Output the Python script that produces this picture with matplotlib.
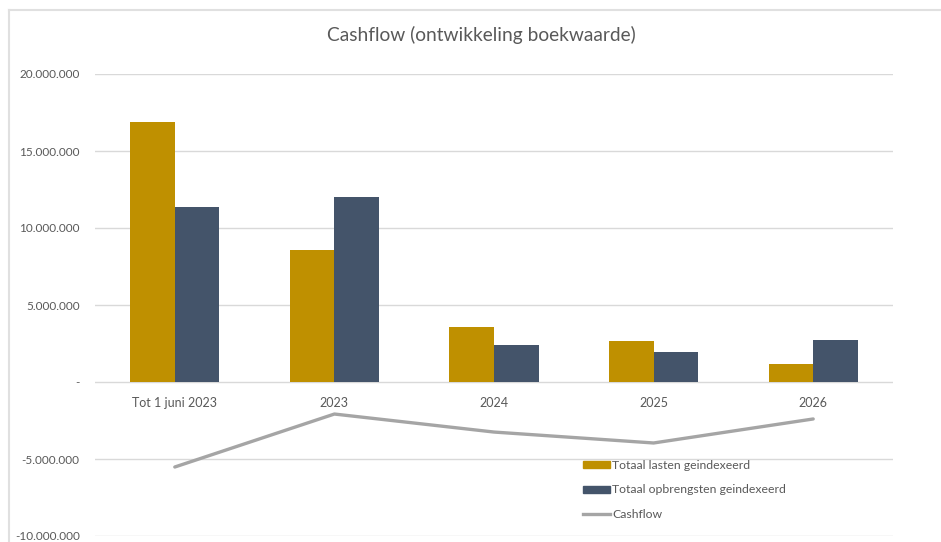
import matplotlib
matplotlib.use("Agg")
import matplotlib.pyplot as plt
from matplotlib.patches import Patch
from matplotlib.lines import Line2D
from matplotlib.ticker import FuncFormatter
import numpy as np

categories = ["Tot 1 juni 2023", "2023", "2024", "2025", "2026"]
lasten = [16880000, 8570000, 3570000, 2660000, 1170000]
opbrengsten = [11360000, 12010000, 2400000, 1950000, 2730000]
cashflow = [-5520000, -2080000, -3250000, -3960000, -2400000]

GOLD = "#bf9000"
BLUE = "#44546a"
GREY_LINE = "#a5a5a5"
TEXT = "#595959"
GRID = "#d9d9d9"

plt.rcParams["font.family"] = ["Lato", "DejaVu Sans"]

fig = plt.figure(figsize=(9.41, 5.42), dpi=100)
ax = fig.add_axes([95 / 941, 1 - 536 / 542, 798 / 941, 462 / 542])

# chart frame (top and left edge visible, like the Excel chart area)
fig.add_artist(Line2D([9 / 941, 1], [1 - 10 / 542] * 2,
                      transform=fig.transFigure, color="#e0e0e0", lw=1.5))
fig.add_artist(Line2D([9 / 941] * 2, [0, 1 - 10 / 542],
                      transform=fig.transFigure, color="#e0e0e0", lw=1.5))

x = np.arange(len(categories))
w = 0.28
ax.bar(x - w / 2, lasten, w, color=GOLD, zorder=2)
ax.bar(x + w / 2, opbrengsten, w, color=BLUE, zorder=2)
ax.plot(x, cashflow, color=GREY_LINE, linewidth=2.4, zorder=3,
        solid_capstyle="round")

ax.set_xlim(-0.5, len(categories) - 0.5)
ax.set_ylim(-10000000, 20000000)
ax.set_yticks(np.arange(-10000000, 20000001, 5000000))


def fmt(v, pos):
    if v == 0:
        return "-"
    return f"{v:,.0f}".replace(",", ".")


ax.yaxis.set_major_formatter(FuncFormatter(fmt))
ax.tick_params(axis="y", length=0, labelsize=8.5, labelcolor=TEXT, pad=11)
ax.set_xticks([])
ax.grid(axis="y", color=GRID, linewidth=1, zorder=0)
for s in ax.spines.values():
    s.set_visible(False)

# category labels sit just under the zero line
for xi, lab in zip(x, categories):
    ax.annotate(lab, (xi, 0), xytext=(0, -11), textcoords="offset points",
                ha="center", va="top", fontsize=9, color=TEXT)

fig.text(481 / 941, 1 - 35 / 542, "Cashflow (ontwikkeling boekwaarde)",
         fontsize=13.8, color=TEXT, ha="center", va="center")

handles = [Patch(color=GOLD), Patch(color=BLUE),
           Line2D([0], [0], color=GREY_LINE, linewidth=2.4)]
labels = ["Totaal lasten geindexeerd", "Totaal opbrengsten geindexeerd",
          "Cashflow"]
leg = ax.legend(handles, labels, loc="upper left",
                bbox_to_anchor=(572 / 941, 1 - 449 / 542),
                bbox_transform=fig.transFigure, frameon=False, fontsize=8.8,
                labelcolor=TEXT, handlelength=2.2, handleheight=0.5,
                handletextpad=0.2, labelspacing=1.1)

fig.savefig("out.png", dpi=100)
